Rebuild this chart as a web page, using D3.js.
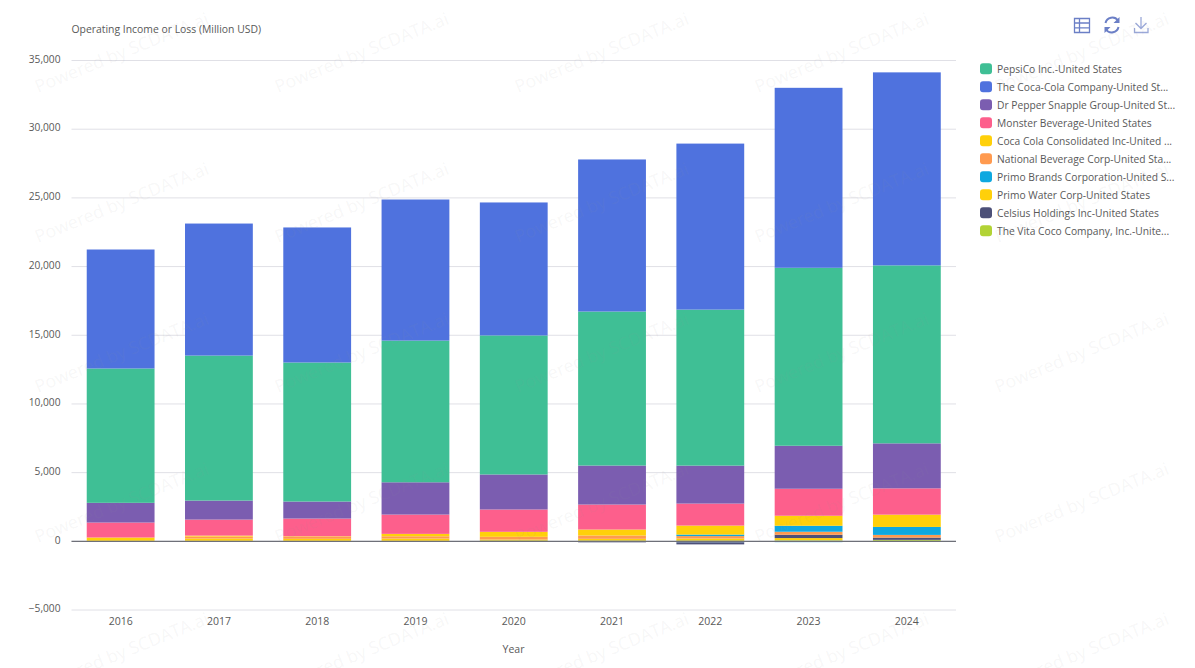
<!DOCTYPE html>
<html>
<head>
<meta charset="utf-8">
<title>Operating Income or Loss</title>
<script src="https://cdn.jsdelivr.net/npm/d3@7"></script>
<style>
  html, body { margin: 0; padding: 0; background: #fff; }
  text { font-family: "Open Sans", "Noto Sans", sans-serif; }
</style>
</head>
<body>
<div id="chart"></div>
<script>
// values (million USD)
const years = ["2016","2017","2018","2019","2020","2021","2022","2023","2024"];

const pepsi       = [9780,10555,10120,10315,10120,11210,11355,12955,12955];
const coke        = [8660,9610,9830,10270,9680,11070,12085,13100,14050];
const drPepper    = [1435,1385,1240,2350,2550,2840,2765,3130,3275];
const monster     = [1090,1165,1290,1405,1625,1820,1600,1965,1915];
const consolidated= [240,70,40,175,365,435,655,730,895];
const national    = [0,145,145,165,195,240,180,220,195];
const primoBrands = [0,0,0,0,0,0,110,435,580];
const primoWater  = [0,165,145,165,95,145,165,170,0];
const celsius     = [0,0,0,0,0,-40,-150,240,165];
const vitaCoco    = [0,0,0,0,0,0,0,30,70];
// thin negative sliver under the axis, not in the visible part of the legend
const unlisted    = [0,0,0,0,-70,-70,-110,-100,0];

const legendNames = [
  "PepsiCo Inc.-United States",
  "The Coca-Cola Company-United St...",
  "Dr Pepper Snapple Group-United St...",
  "Monster Beverage-United States",
  "Coca Cola Consolidated Inc-United ...",
  "National Beverage Corp-United Sta...",
  "Primo Brands Corporation-United S...",
  "Primo Water Corp-United States",
  "Celsius Holdings Inc-United States",
  "The Vita Coco Company, Inc.-Unite..."
];
const legendColors = ["#3fbf95","#4f72de","#7b5db0","#fd5f8c","#ffd00a","#ff9a4f","#0ea8e0","#ffd00a","#4c5078","#b2d335"];
const yTicks = [-5000,0,5000,10000,15000,20000,25000,30000,35000];

// stack order bottom to top
const seriesKeys = ["vita","water","unlisted","celsius","national","brands","consolidated","monster","drPepper","pepsi","coke"];
const seriesValues = { vita: vitaCoco, water: primoWater, unlisted: unlisted, celsius: celsius, national: national,
  brands: primoBrands, consolidated: consolidated, monster: monster, drPepper: drPepper, pepsi: pepsi, coke: coke };
const seriesColors = { pepsi: legendColors[0], coke: legendColors[1], drPepper: legendColors[2], monster: legendColors[3],
  consolidated: legendColors[4], national: legendColors[5], brands: legendColors[6], water: legendColors[7],
  celsius: legendColors[8], vita: legendColors[9], unlisted: "#5cb8e6" };

const width = 1195, height = 668;
const left = 71.5, right = 956, top_ = 60, bottom = 609.5;
const textColor = "#595959";

const svg = d3.select("#chart").append("svg")
  .attr("width", width)
  .attr("height", height)
  .style("display", "block");

const x = d3.scaleBand().domain(years).range([left, right]).paddingInner(0.31).paddingOuter(0.155);
const y = d3.scaleLinear().domain([-5000, 35000]).range([bottom, top_]);

// gridlines and y labels
const yAxis = d3.axisLeft(y).tickValues(yTicks).tickSize(-(right - left)).tickPadding(11).tickFormat(d3.format(","));
svg.append("g")
  .attr("transform", `translate(${left},0)`)
  .call(yAxis)
  .call(g => g.select(".domain").remove())
  .call(g => g.selectAll("line").attr("stroke", "#e0e0e6"))
  .call(g => g.selectAll("text").attr("fill", textColor).attr("y", -1).style("font-size", "10.2px"));

// stacked bars
const rows = years.map((yr, i) => {
  const row = { year: yr };
  seriesKeys.forEach(k => { row[k] = seriesValues[k][i]; });
  return row;
});
const stacked = d3.stack().keys(seriesKeys).offset(d3.stackOffsetDiverging)(rows);

svg.append("g").selectAll("g")
  .data(stacked)
  .join("g")
    .attr("fill", d => seriesColors[d.key])
  .selectAll("rect")
  .data(d => d)
  .join("rect")
    .attr("x", d => x(d.data.year))
    .attr("width", x.bandwidth())
    .attr("y", d => y(Math.max(d[0], d[1])))
    .attr("height", d => Math.abs(y(d[0]) - y(d[1])));

// zero line goes over the bars
svg.append("line")
  .attr("x1", left).attr("x2", right)
  .attr("y1", y(0) + 0.5).attr("y2", y(0) + 0.5)
  .attr("stroke", "#6e7079").attr("stroke-width", 1.3);

// x labels
const xAxis = d3.axisBottom(x).tickSize(0).tickPadding(8);
svg.append("g")
  .attr("transform", `translate(0,${bottom})`)
  .call(xAxis)
  .call(g => g.select(".domain").remove())
  .call(g => g.selectAll("text").attr("fill", textColor).style("font-size", "10.5px"));

// axis names
svg.append("text").attr("x", left).attr("y", 33)
  .attr("fill", textColor).style("font-size", "10.4px")
  .text("Operating Income or Loss (Million USD)");
svg.append("text").attr("x", 513.5).attr("y", 653)
  .attr("text-anchor", "middle")
  .attr("fill", textColor).style("font-size", "10.5px")
  .text("Year");

// legend
const legend = svg.append("g").selectAll("g")
  .data(legendNames)
  .join("g")
    .attr("transform", (d, i) => `translate(980,${68.8 + i * 18})`);
legend.append("rect")
  .attr("y", -5.5).attr("width", 12).attr("height", 11).attr("rx", 3)
  .attr("fill", (d, i) => legendColors[i]);
legend.append("text")
  .attr("x", 17).attr("y", 4)
  .attr("fill", textColor).style("font-size", "10.25px")
  .text(d => d);

// toolbox icons
const iconColor = "#6b7fc6";
const tools = svg.append("g").attr("fill", "none").attr("stroke", iconColor).attr("stroke-width", 1.3);
tools.append("path").attr("d", "M1074.5 18.5h15v14h-15zM1074.5 23h15M1074.5 27.8h15M1079.5 18.5v14");
tools.append("path").attr("stroke-width", 2)
  .attr("d", "M1105.5 23a7 7 0 0 1 12.5-2.5M1118.5 27a7 7 0 0 1-12.5 2.5");
tools.append("path").attr("fill", iconColor).attr("stroke", "none")
  .attr("d", "M1119.5 17v6h-6zM1104.5 33v-6h6z");
tools.append("path").attr("stroke", "#9aa8d8").attr("d", "M1141 17v11.5M1135.5 23l5.5 5.5 5.5-5.5M1134.5 28v4.5h13.5V28");

// watermark on top of everything
const wmCols = d3.range(38, width + 1, 240);
const wmRows = d3.range(93, height + 50, 150);
const wm = svg.append("g").style("pointer-events", "none");
wmRows.forEach(ry => wmCols.forEach(cx => {
  wm.append("text")
    .attr("transform", `translate(${cx},${ry}) rotate(-22)`)
    .attr("fill", "rgba(150,150,150,0.085)")
    .style("font-size", "17.6px")
    .text("Powered by SCDATA.ai");
}));
</script>
</body>
</html>
